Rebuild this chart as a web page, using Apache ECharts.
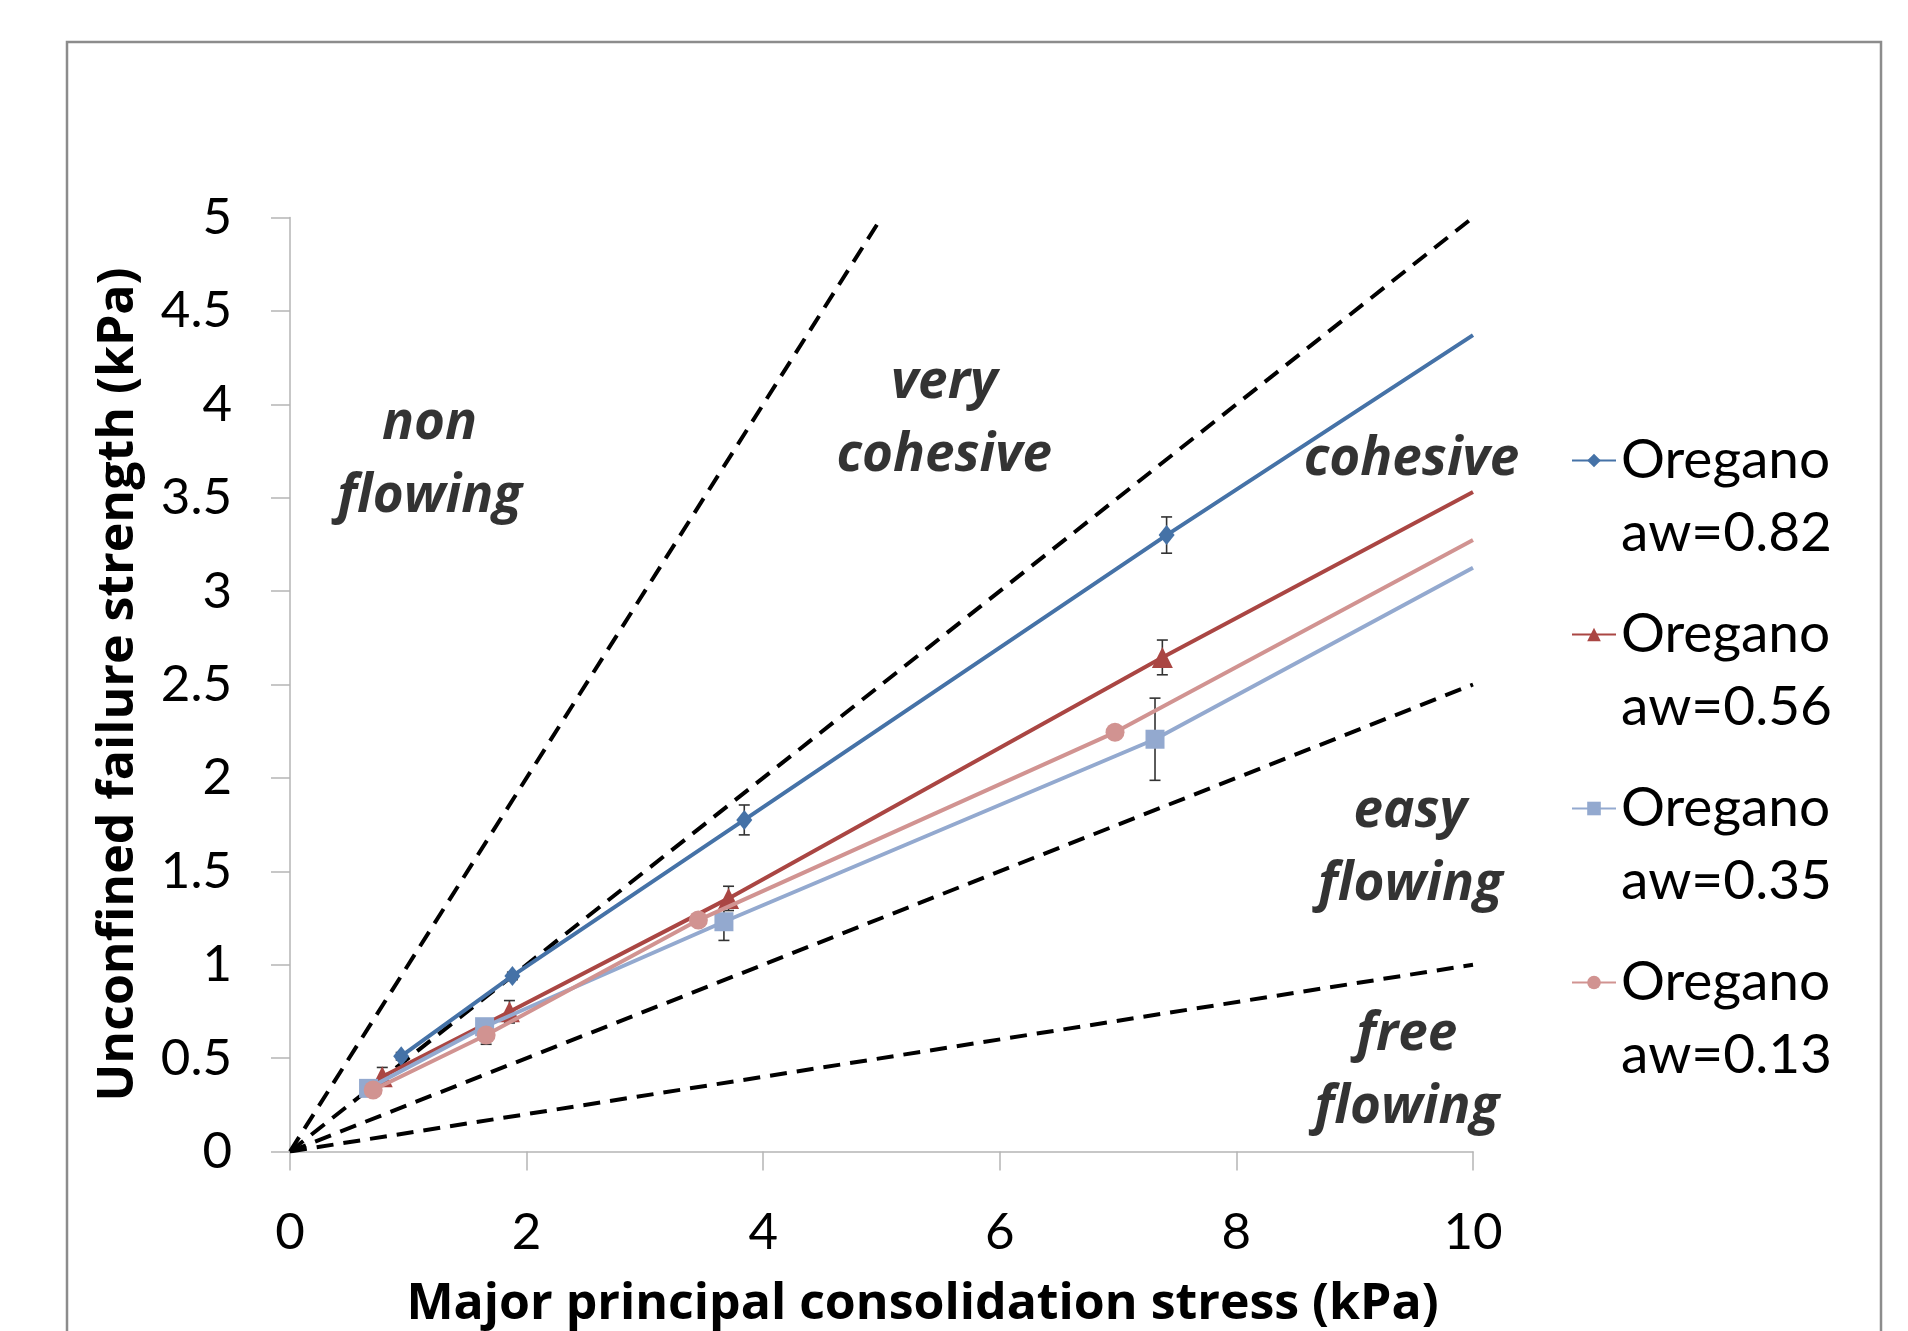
<!DOCTYPE html>
<html><head><meta charset="utf-8">
<script src="https://cdn.jsdelivr.net/npm/echarts@6/dist/echarts.min.js"></script>
<style>html,body{margin:0;padding:0;background:#fff}#c{width:1908px;height:1331px}</style>
</head><body><div id="c"></div>
<script>
// ---- data ----
const seriesNames = ['Oregano aw=0.82', 'Oregano aw=0.56', 'Oregano aw=0.35', 'Oregano aw=0.13'];
const x082 = [0.94, 1.88, 3.84, 7.41];
const y082 = [0.51, 0.94, 1.775, 3.30];
const e082 = [0.02, 0.02, 0.08, 0.097];
const x056 = [0.78, 1.855, 3.707, 7.374];
const y056 = [0.40, 0.748, 1.355, 2.645];
const e056 = [0.05, 0.06, 0.065, 0.093];
const x035 = [0.664, 1.645, 3.668, 7.312];
const y035 = [0.338, 0.668, 1.230, 2.207];
const e035 = [0.02, 0.03, 0.10, 0.22];
const x013 = [0.703, 1.658, 3.452, 6.974];
const y013 = [0.329, 0.624, 1.239, 2.244];
const e013 = [0.02, 0.05, 0.03, 0.02];
// extrapolated flow-function end values at sigma1 = 10 kPa
const endX = 10;
const endY = [4.37, 3.53, 3.125, 3.274];
// ffc boundary lines (start at origin)
const boundaryEnds = [[5, 5], [10, 5], [10, 2.5], [10, 1]];
// region annotations
const regionLabels = ['non\nflowing', 'very\ncohesive', 'cohesive', 'easy\nflowing', 'free\nflowing'];
const regionX = [1.18, 5.53, 9.48, 9.47, 9.44];
const regionY = [3.70, 3.92, 3.70, 1.62, 0.43];
// axes
const xMin = 0, xMax = 10, xStep = 2;
const yMin = 0, yMax = 5, yStep = 0.5;
const xTitle = 'Major principal consolidation stress (kPa)';
const yTitle = 'Unconfined failure strength (kPa)';

// ---- styles ----
const colors = ['#4572A7', '#AA4643', '#93A9CF', '#D19391'];
const symbols = ['diamond', 'triangle', 'rect', 'circle'];
const symbolSizes = [[16, 20], 21, 19, 19];
const FONT = 'Lato';
const BOLDFONT = 'Open Sans';

const xs = [x082, x056, x035, x013];
const ys = [y082, y056, y035, y013];
const es = [e082, e056, e035, e013];

const series = [];
// boundary dashed lines
boundaryEnds.forEach(function (p) {
  series.push({
    type: 'line', data: [[0, 0], p], symbol: 'none', silent: true, z: 1,
    lineStyle: { color: '#000', width: 4, type: [17, 10] }
  });
});
// error bars
function errRender(params, api) {
  const x = api.value(0), y = api.value(1), e = api.value(2);
  const t = api.coord([x, y + e]), b = api.coord([x, y - e]);
  const hw = 5.5;
  const st = { stroke: '#333', lineWidth: 1.6 };
  return { type: 'group', children: [
    { type: 'line', shape: { x1: t[0], y1: t[1], x2: b[0], y2: b[1] }, style: st },
    { type: 'line', shape: { x1: t[0] - hw, y1: t[1], x2: t[0] + hw, y2: t[1] }, style: st },
    { type: 'line', shape: { x1: b[0] - hw, y1: b[1], x2: b[0] + hw, y2: b[1] }, style: st }
  ]};
}
for (let i = 0; i < 4; i++) {
  const data = xs[i].map(function (x, k) { return [x, ys[i][k]]; });
  data.push({ value: [endX, endY[i]], symbol: 'none' });
  series.push({
    name: seriesNames[i], type: 'line', data: data, z: 3 + i,
    symbol: symbols[i], symbolSize: symbolSizes[i],
    itemStyle: { color: colors[i] },
    lineStyle: { color: colors[i], width: 4 }
  });
  series.push({
    type: 'custom', renderItem: errRender, z: 2, silent: true,
    data: xs[i].map(function (x, k) { return [x, ys[i][k], es[i][k]]; })
  });
}
// region labels
series.push({
  type: 'scatter', symbolSize: 0, silent: true, z: 10,
  data: regionLabels.map(function (t, k) { return { name: t, value: [regionX[k], regionY[k]] }; }),
  label: {
    show: true, position: 'inside', formatter: function (p) { return p.name; },
    fontFamily: BOLDFONT, fontSize: 53, fontWeight: 'bold', fontStyle: 'italic',
    color: '#000', lineHeight: 73, align: 'center'
  }
});

const chart = echarts.init(document.getElementById('c'), null, { renderer: 'canvas' });
const axisLineStyle = { color: '#b5b5b5', width: 1.5 };
chart.setOption({
  animation: false,
  backgroundColor: '#fff',
  grid: { left: 290, top: 217.5, right: 435, bottom: 179.5, containLabel: false, outerBoundsMode: 'none' },
  xAxis: {
    type: 'value', min: xMin, max: xMax, interval: xStep,
    axisLine: { show: true, onZero: false, lineStyle: axisLineStyle },
    axisTick: { show: true, length: 19, lineStyle: axisLineStyle },
    splitLine: { show: false },
    axisLabel: { fontFamily: FONT, fontSize: 51, color: '#000', margin: 56 },
    name: xTitle, nameLocation: 'middle', nameGap: 128,
    nameTextStyle: { fontFamily: BOLDFONT, fontSize: 50, fontWeight: 'bold', color: '#000', padding: [0, 0, 0, 82] }
  },
  yAxis: {
    type: 'value', min: yMin, max: yMax, interval: yStep,
    axisLine: { show: true, onZero: false, lineStyle: axisLineStyle },
    axisTick: { show: true, length: 19, lineStyle: axisLineStyle },
    splitLine: { show: false },
    axisLabel: { fontFamily: FONT, fontSize: 51, color: '#000', margin: 58 },
    name: yTitle, nameLocation: 'middle', nameGap: 146,
    nameTextStyle: { fontFamily: BOLDFONT, fontSize: 50, fontWeight: 'bold', color: '#000' }
  },
  legend: {
    orient: 'vertical', left: 1566, top: 346,
    data: seriesNames,
    itemWidth: 44, itemHeight: 17, itemGap: -45,
    formatter: function (n) { return '\u00a0\n' + n.replace(' ', '\n'); },
    textStyle: { fontFamily: FONT, fontSize: 55, color: '#000', lineHeight: 73 }
  },
  graphic: [{
    type: 'rect', silent: true, z: -10,
    shape: { x: 67, y: 42, width: 1814, height: 1400 },
    style: { fill: 'none', stroke: '#8c8c8c', lineWidth: 2.5 }
  }],
  series: series
});
</script></body></html>
